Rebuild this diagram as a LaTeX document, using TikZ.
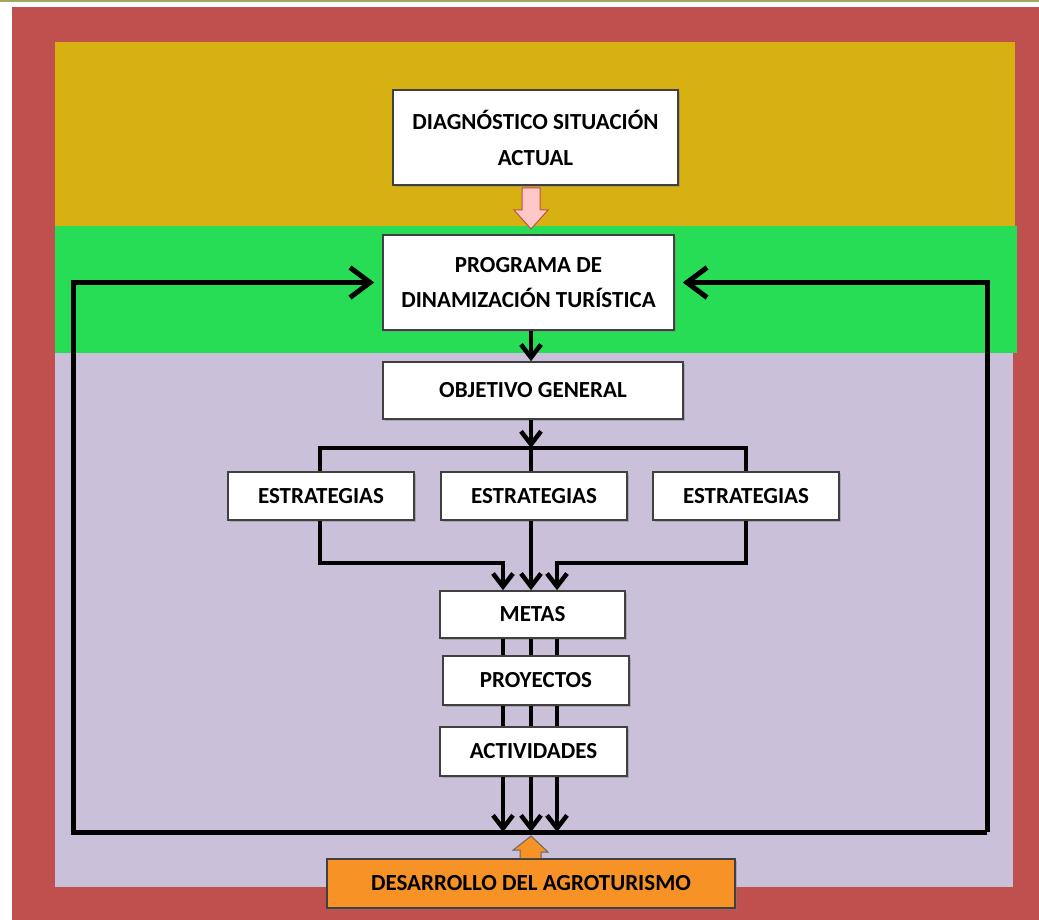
\documentclass[tikz,border=0pt]{standalone}
\usepackage{fontspec}
\setmainfont{Carlito}
\usetikzlibrary{arrows.meta,shadows,calc}
\definecolor{frame}{RGB}{192,80,77}
\definecolor{ybg}{RGB}{214,177,17}
\definecolor{gbg}{RGB}{38,221,85}
\definecolor{pbg}{RGB}{203,192,218}
\definecolor{olive}{RGB}{158,168,94}
\definecolor{pinkf}{RGB}{255,200,200}
\definecolor{orangef}{RGB}{247,146,38}
\tikzset{
  box/.style={draw=black!75, line width=1.6pt, fill=white, align=center,
    font=\fontsize{23}{36}\selectfont\bfseries, inner sep=0pt,
    drop shadow={shadow xshift=2pt, shadow yshift=-2pt, opacity=.45}},
  link/.style={line width=4.5pt, black},
  arr/.style={link, -{Straight Barb[length=13pt,width=20pt]}},
  fb/.style={line width=5pt, black, -{Straight Barb[length=20pt,width=30pt]}, shorten >=8pt},
}
\begin{document}
\begin{tikzpicture}[x=1pt,y=-1pt]
\useasboundingbox (0,0) rectangle (1039,920);
% background
\fill[white] (0,0) rectangle (1039,920);
\fill[olive] (0,0) rectangle (1039,2.5);
\fill[frame] (12,7) rectangle (1039,920);
\fill[ybg] (55,42) rectangle (1015,226);
\fill[gbg] (55,226) rectangle (1017,353);
\fill[pbg] (55,353) rectangle (1013,887);
% helper coordinates
\coordinate (xa) at (503,0);
\coordinate (xb) at (531,0);
\coordinate (xc) at (557,0);
\coordinate (xl) at (73,0);
\coordinate (xr) at (987,0);
\coordinate (xL) at (320,0);
\coordinate (xR) at (746,0);
\coordinate (ylow) at (0,832);
\coordinate (ybr) at (0,448);
\coordinate (yrt) at (0,563);
% nodes
\node[box, minimum width=285pt, minimum height=95pt] (diag) at (535.5,137.5) {DIAGNÓSTICO SITUACIÓN\\ACTUAL};
\node[box, minimum width=291pt, minimum height=95pt, font=\fontsize{23}{35}\selectfont\bfseries] (prog) at (528.5,282.5) {PROGRAMA DE\\DINAMIZACIÓN TURÍSTICA};
\node[box, minimum width=300pt, minimum height=57pt] (obj) at (533,390.5) {OBJETIVO GENERAL};
\node[box, minimum width=186pt, minimum height=48pt] (est1) at (321,496) {ESTRATEGIAS};
\node[box, minimum width=186pt, minimum height=48pt] (est2) at (534,496) {ESTRATEGIAS};
\node[box, minimum width=186pt, minimum height=48pt] (est3) at (746,496) {ESTRATEGIAS};
\node[box, minimum width=185pt, minimum height=47pt] (metas) at (532.5,614.5) {METAS};
\node[box, minimum width=186pt, minimum height=49pt] (proy) at (536,680.5) {PROYECTOS};
\node[box, minimum width=187pt, minimum height=49pt] (act) at (533.5,751.5) {ACTIVIDADES};
\node[box, fill=orangef, minimum width=408pt, minimum height=49pt] (desa) at (531,883.5) {DESARROLLO DEL AGROTURISMO};
% pink block arrow diag -> prog
\filldraw[fill=pinkf, draw=frame, line width=1pt]
  (522,188) -- (540,188) -- (540,210) -- (548,210) -- (531,229) -- (514,210) -- (522,210) -- cycle;
% orange block arrow desa -> feedback line
\filldraw[fill=orangef, draw=black!60, line width=1pt]
  ($(desa.north)+(-11,0)$) -- ++(0,-8) -- ++(-7,0) -- (531,836) -- (548,852) -- ++(-7,0) -- ($(desa.north)+(10,0)$);
% connectors
\draw[arr] (prog.south -| xb) -- (obj.north -| xb);
\draw[arr] (obj.south -| xb) -- (xb |- ybr);
\draw[link] (est1.north -| xL) |- (xR |- ybr) -- (est3.north -| xR);
\draw[link] (xb |- ybr) -- (est2.north -| xb);
\draw[arr] (est1.south -| xL) |- (xa |- yrt) -- (metas.north -| xa);
\draw[arr] (est2.south -| xb) -- (metas.north -| xb);
\draw[arr] (est3.south -| xR) |- (xc |- yrt) -- (metas.north -| xc);
\foreach \c in {xa,xb,xc}{
  \draw[link] (metas.south -| \c) -- (proy.north -| \c);
  \draw[link] (proy.south -| \c) -- (act.north -| \c);
  \draw[arr] (act.south -| \c) -- (\c |- ylow);
}
\draw[fb] (xr |- ylow) -- (xl |- ylow) |- (prog.west);
\draw[fb] (xr |- ylow) |- (prog.east);
\end{tikzpicture}
\end{document}
